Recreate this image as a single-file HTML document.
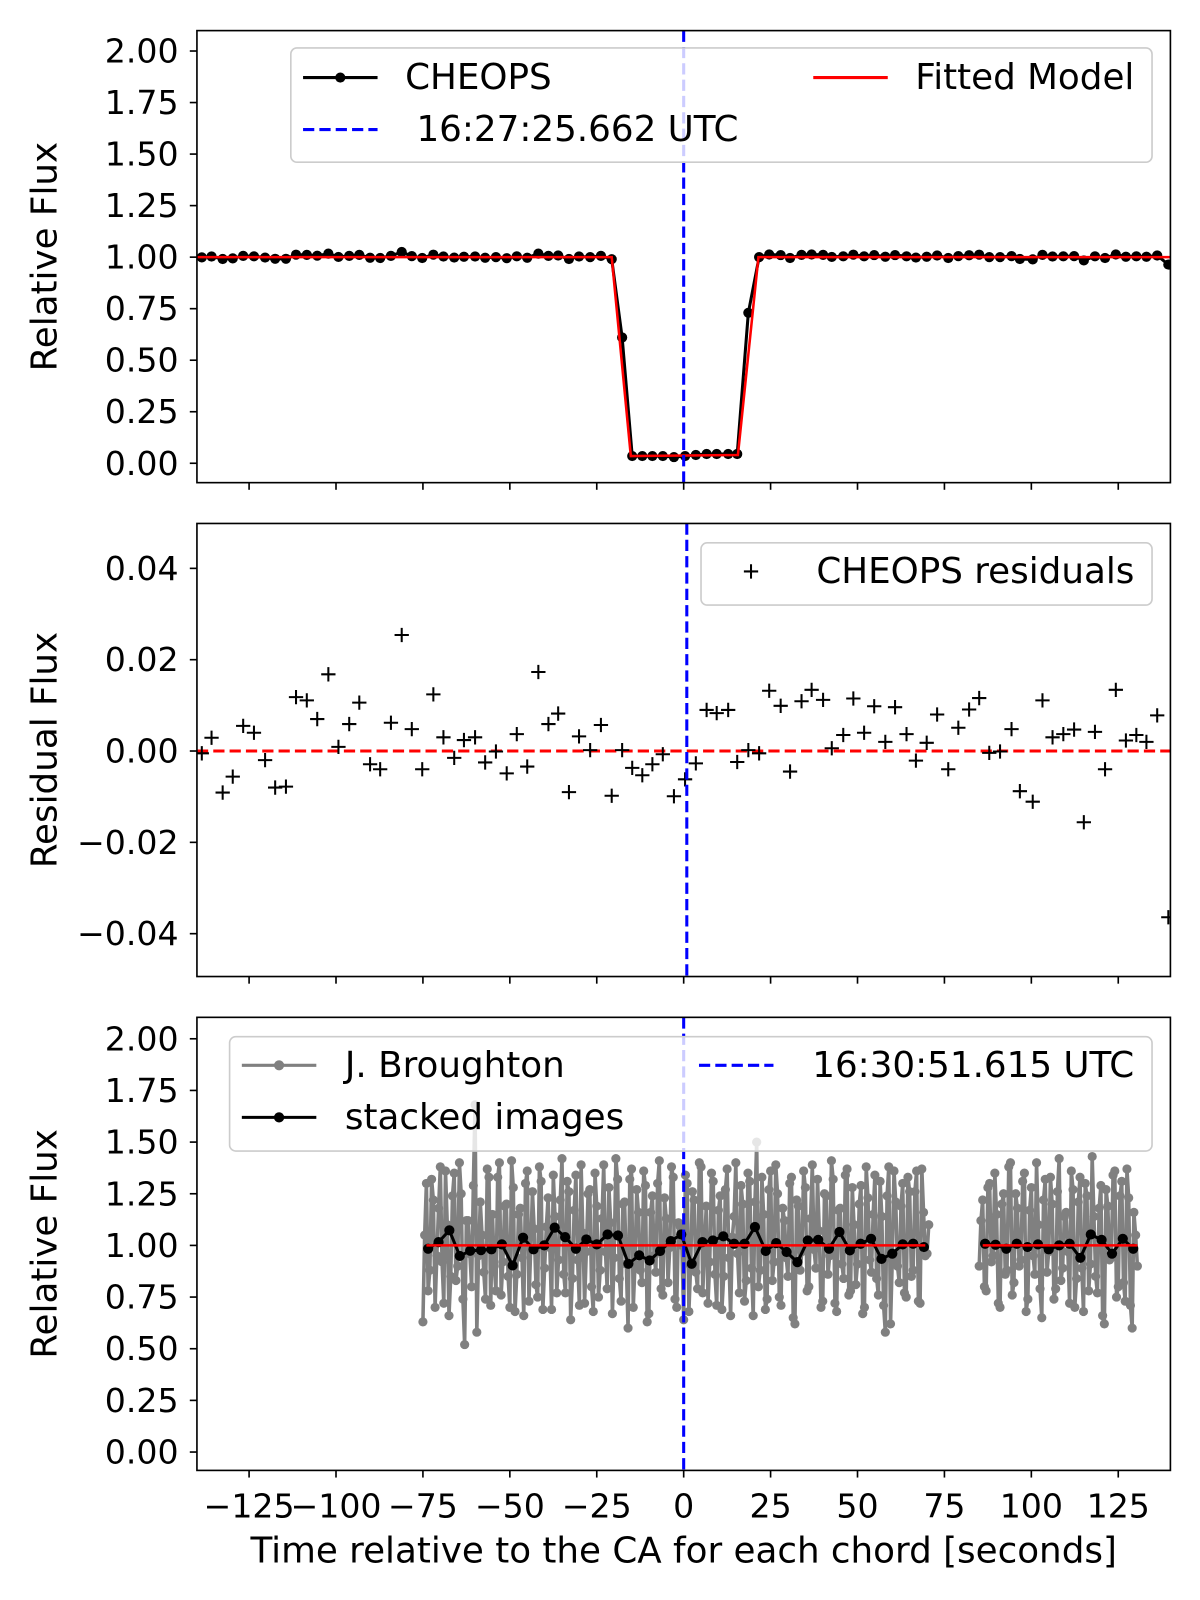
<!DOCTYPE html>
<html><head><meta charset="utf-8"><style>
html,body{margin:0;padding:0;background:#fff;}
svg{display:block;font-family:"DejaVu Sans","Liberation Sans",sans-serif;}
</style></head><body>
<svg id="fig" width="1200" height="1600" viewBox="0 0 1176 1568" xmlns="http://www.w3.org/2000/svg">
<defs>
<clipPath id="c1"><rect x="193" y="30" width="954" height="443"/></clipPath>
<clipPath id="c2"><rect x="193" y="513" width="954" height="444"/></clipPath>
<clipPath id="c3"><rect x="193" y="997" width="954" height="444"/></clipPath>
</defs>
<g id="p1"></g>
<g id="p2"></g>
<g id="p3"></g>
</svg>
<script>
// ---- data ----
const cheopsTime=[-138.6,-135.8,-132.6,-129.7,-126.7,-123.6,-120.4,-117.5,-114.4,-111.5,-108.4,-105.4,-102.2,-99.3,-96.2,-93.3,-90.2,-87.3,-84.2,-81.1,-78.2,-75.2,-72.0,-69.1,-66.0,-63.2,-60.0,-57.1,-54.0,-50.9,-48.0,-45.0,-41.8,-38.9,-36.1,-33.0,-30.1,-26.9,-23.8,-20.7,-17.7,-14.8,-11.9,-9.0,-6.0,-2.8,0.4,3.5,6.6,9.5,12.8,15.4,18.6,21.7,24.6,27.9,30.6,33.9,36.8,40.1,42.6,45.9,48.8,51.9,54.8,58.0,60.8,64.1,66.8,69.9,72.9,76.1,79.0,82.1,85.0,87.9,91.0,94.3,96.7,100.4,103.2,106.1,109.2,112.3,115.1,118.3,121.2,124.3,127.2,130.2,133.1,136.2,139.4];
const cheopsResid=[-0.5,2.9,-9.1,-5.6,5.5,4.0,-2.0,-8.0,-7.8,11.8,11.1,7.0,16.8,0.9,5.9,10.6,-2.9,-4.0,6.2,25.4,4.8,-4.0,12.4,3.0,-1.5,2.4,3.0,-2.5,-0.1,-4.9,3.7,-3.4,17.3,5.9,8.2,-9.0,3.2,0.2,5.7,-9.8,0.2,-3.7,-5.3,-2.9,-0.7,-9.9,-6.2,-2.7,9.0,8.3,9.0,-2.4,0.2,-0.5,13.2,9.9,-4.5,10.9,13.4,11.2,0.6,3.5,11.5,4.0,9.8,2.0,9.6,3.7,-2.1,1.8,8.0,-4.0,5.1,9.1,11.6,-0.4,-0.1,4.8,-8.8,-11.1,11.1,3.0,3.7,4.7,-15.6,4.2,-4.0,13.4,2.3,3.5,2.0,7.8,-36.4]; // x1e-3
const cheopsFlux=[0.999,1.003,0.991,0.994,1.006,1.004,0.998,0.992,0.992,1.012,1.011,1.007,1.017,1.001,1.006,1.011,0.997,0.996,1.006,1.025,1.005,0.996,1.012,1.003,0.998,1.002,1.003,0.997,1.000,0.995,1.004,0.997,1.017,1.006,1.008,0.991,1.003,1.000,1.006,0.990,0.610,0.035,0.035,0.035,0.035,0.030,0.035,0.040,0.045,0.045,0.045,0.045,0.730,1.000,1.013,1.010,0.996,1.011,1.013,1.011,1.001,1.004,1.012,1.004,1.010,1.002,1.010,1.004,0.998,1.002,1.008,0.996,1.005,1.009,1.012,1.000,1.000,1.005,0.991,0.989,1.011,1.003,1.004,1.005,0.984,1.004,0.996,1.013,1.002,1.004,1.002,1.008,0.964];
const modelTime=[-140,-20.7,-15.2,15.6,21.5,140];
const modelFlux=[1,1,0.035,0.04,1,1];
const grayStart=[-75,85];
const grayStartB=[-74.5,85.5];
const grayStep=1;
const graySeg1=[0.63,1.30,0.88,1.22,0.95,1.38,0.72,1.10,0.85,1.35,0.90,1.25,0.52,1.12,0.80,1.68,0.95,1.05,0.74,1.33,1.15,0.78,1.40,0.92,1.20,0.70,1.28,0.86,1.18,0.66,1.36,0.98,1.08,0.75,1.31,0.89,1.23,0.69,1.14,0.93,1.42,0.77,1.26,0.84,1.34,0.71,1.06,0.97,1.27,0.68,1.19,0.88,1.39,0.79,1.11,0.94,1.32,0.73,1.21,0.60,1.37,0.91,1.16,0.82,1.29,0.67,1.24,0.87,1.41,0.76,1.13,0.99,1.33,0.70,1.09,0.64,1.30,0.90,1.22,0.79,1.38,1.00,0.72,1.35,0.86,1.17,0.69,1.27,0.94,1.04,1.40,0.77,1.20,0.83,1.31,0.66,1.50,0.88,1.15,0.74,1.36,0.92,1.25,0.71,1.12,0.85,1.33,0.62,1.19,0.97,1.28,0.80,1.39,0.89,1.07,0.73,1.24,0.95,1.32,0.68,1.18,0.84,1.37,0.78,1.10,0.91,1.29,0.70,1.23,0.87,1.34,0.76,1.14,0.58,1.38,0.93,1.21,0.82,1.30,0.75,1.26,0.88,1.36,0.72,1.16,0.96];
const graySeg1b=[1.05,0.78,1.32,0.70,1.18,0.92,1.36,0.66,1.24,0.83,1.40,0.74,1.12,0.96,1.29,0.58,1.21,0.87,1.37,0.71,0.90,1.33,0.76,1.19,0.85,1.41,0.68,1.15,0.94,1.30,0.73,1.26,0.81,1.38,0.69,1.09,0.99,1.34,0.77,1.22,0.86,1.31,0.64,1.17,0.93,1.39,0.72,1.25,0.80,1.35,0.75,1.13,0.97,1.28,0.67,1.42,0.84,1.20,0.91,1.32,0.70,1.27,0.88,1.36,0.63,1.16,0.95,1.30,0.79,1.23,0.82,1.38,0.74,1.11,1.00,1.34,0.68,1.26,0.87,1.40,0.77,1.19,0.92,1.31,0.71,1.24,0.85,1.37,0.66,1.14,0.96,1.29,0.73,1.35,0.89,1.21,0.80,1.33,0.69,1.27,0.83,1.39,0.75,1.18,0.94,1.30,0.65,1.22,0.88,1.36,0.78,1.13,0.98,1.32,0.70,1.25,0.86,1.41,0.72,1.17,0.91,1.34,0.76,1.28,0.81,1.20,0.67,1.38,0.93,1.15,0.84,1.31,0.71,1.24,0.62,1.36,0.90,1.19,0.77,1.33,0.85,1.26,0.73,1.37,0.95,1.10];
const graySeg2=[0.90,1.22,0.78,1.30,0.95,1.15,0.70,1.25,0.88,1.40,0.82,1.18,0.93,1.35,0.74,1.28,0.86,1.10,0.65,1.32,0.97,1.20,0.79,1.42,0.89,1.16,0.72,1.27,0.84,1.33,0.68,1.24,0.91,1.14,0.77,1.29,0.62,1.19,0.94,1.36,0.80,1.31,0.73,1.23,0.60,1.05];
const graySeg2b=[1.12,0.80,1.28,0.92,1.35,0.72,1.20,0.86,1.38,0.76,1.25,0.90,1.31,0.68,1.17,0.95,1.40,0.79,1.22,0.87,1.33,0.74,1.26,0.83,1.14,0.97,1.36,0.70,1.21,0.89,1.30,0.78,1.43,0.85,1.18,0.66,1.27,0.93,1.34,0.75,1.24,0.82,1.37,0.71,1.16,0.90];
const stackTime1=[-73.5,-70.5,-67.4,-64.4,-61.4,-58.3,-55.3,-52.3,-49.2,-46.2,-43.2,-40.1,-37.1,-34.1,-31.0,-28.0,-25.0,-21.9,-18.9,-15.9,-12.8,-9.8,-6.8,-3.7,-0.7,2.3,5.4,8.4,11.4,14.5,17.5,20.5,23.6,26.6,29.6,32.7,35.7,38.7,41.8,44.8,47.8,50.9,53.9,56.9,60.0,63.0,66.0,69.1];
const stackFlux1=[0.984,1.016,1.073,0.949,0.974,0.977,0.981,1.005,0.903,1.037,0.981,1.000,1.086,1.040,0.984,1.029,1.005,1.053,1.048,0.911,0.952,0.927,0.973,1.021,1.053,0.911,1.016,1.024,1.044,1.008,1.008,1.089,0.973,1.011,0.968,0.919,1.024,1.027,0.984,1.065,0.976,1.008,1.032,0.935,0.960,1.005,1.008,0.992];
const stackTime2=[86.7,89.7,92.8,95.8,98.9,101.9,105.0,108.0,111.0,114.1,117.1,120.2,123.2,126.3,129.3];
const stackFlux2=[1.008,1.003,0.984,1.008,0.992,1.005,0.981,1.000,1.008,0.940,1.053,1.027,0.960,1.032,0.984];
const fitTime=[[-74,69.5],[86,130.5]];
const fitFlux=[1,1];
const xTicks=[-125,-100,-75,-50,-25,0,25,50,75,100,125];
const fluxTicks=[0,0.25,0.5,0.75,1,1.25,1.5,1.75,2];
const residTicks=[-0.04,-0.02,0,0.02,0.04];
const caTime=[0,0.9,0];

// ---- scales ----
const NS="http://www.w3.org/2000/svg";
const X=t=>193+(t+140)/280*954;
const Y1=v=>454-v*202;
const Y2=r=>736-r*4475;
const Y3=v=>1423-v*202.5;
function mk(tag,attrs,parent){const e=document.createElementNS(NS,tag);for(const k in attrs)e.setAttribute(k,attrs[k]);parent.appendChild(e);return e;}
function txt(s,attrs,parent){const e=mk('text',attrs,parent);e.textContent=s;return e;}
const fmtMinus=s=>s.replace('-','\u2212');
const FS=35, TFS=32.5;

function frame(g,top,bot,yticks,Y,fmt,label,showX){
  const ax=mk('rect',{x:193,y:top,width:954,height:bot-top,fill:'none',stroke:'#000','stroke-width':1.6},g);
  
  
  yticks.forEach(v=>{
    const y=Y(v);
    const tk=mk('line',{x1:186,x2:193,y1:y,y2:y,stroke:'#000','stroke-width':1.6},g);
    
    
    const l=txt(fmtMinus(fmt(v)),{x:175,y:y,'text-anchor':'end','dominant-baseline':'central','font-size':TFS},g);
    
    
  });
  const yl=txt(label,{x:44,y:(top+bot)/2,'text-anchor':'middle','dominant-baseline':'central','font-size':FS,transform:`rotate(-90 44 ${(top+bot)/2})`},g);
  
  
  xTicks.forEach(t=>{
    const x=X(t);
    const tk=mk('line',{x1:x,x2:x,y1:bot,y2:bot+7,stroke:'#000','stroke-width':1.6},g);
    
    
    if(showX){
      const l=txt(fmtMinus(String(t)),{x:x,y:1476,'text-anchor':'middle','dominant-baseline':'central','font-size':TFS},g);
      
      
    }
  });
}
function legendBox(g,x,y,w,h){
  const r=mk('rect',{x:x,y:y,width:w,height:h,rx:6,fill:'rgba(255,255,255,0.8)',stroke:'#cccccc','stroke-width':1.6},g);
  
  
}
function legLine(g,x,y,color,dash,marker,name){
  const gg=mk('g',{},g);
  
  
  mk('line',{x1:x,x2:x+73,y1:y,y2:y,stroke:color,'stroke-width':3,'stroke-dasharray':dash||''},gg);
  if(marker)mk('circle',{cx:x+36.5,cy:y,r:5,fill:color},gg);
}
function legText(g,s,x,y){
  const t=txt(s,{x:x,y:y,'dominant-baseline':'central','font-size':FS},g);
  
  
}
function vline(g,t,top,bot){
  const l=mk('line',{x1:X(t),x2:X(t),y1:top,y2:bot,stroke:'#0000ff','stroke-width':3,'stroke-dasharray':'11 5'},g);
  
  
}
const flt=v=>v.toFixed(2);

// ---- panel 1 ----
const p1=document.getElementById('p1');
const d1=mk('g',{'clip-path':'url(#c1)'},p1);


let pts=cheopsTime.map((t,i)=>X(t)+','+Y1(cheopsFlux[i])).join(' ');
const cl=mk('polyline',{points:pts,fill:'none',stroke:'#000','stroke-width':3},d1);


cheopsTime.forEach((t,i)=>{
  const c=mk('circle',{cx:X(t),cy:Y1(cheopsFlux[i]),r:5,fill:'#000'},d1);
  
  
});
const ml=mk('polyline',{points:modelTime.map((t,i)=>X(t)+','+Y1(modelFlux[i])).join(' '),fill:'none',stroke:'#ff0000','stroke-width':2.5},d1);


vline(d1,caTime[0],30,473);
legendBox(p1,285,47,844,112);
legLine(p1,297,76,'#000','',true,'legend-cheops');
legText(p1,'CHEOPS',397,76);
legLine(p1,797,76,'#ff0000','',false,'legend-fitted-model');
legText(p1,'Fitted Model',897,76);
legLine(p1,297,127,'#0000ff','11 5',false,'legend-utc-time');
legText(p1,'\u00a016:27:25.662 UTC',397,127);
frame(p1,30,473,fluxTicks,Y1,flt,'Relative Flux',false);

// ---- panel 2 ----
const p2=document.getElementById('p2');
const d2=mk('g',{'clip-path':'url(#c2)'},p2);


const zl=mk('line',{x1:193,x2:1147,y1:Y2(0),y2:Y2(0),stroke:'#ff0000','stroke-width':3,'stroke-dasharray':'11 5'},d2);


cheopsTime.forEach((t,i)=>{
  const x=X(t),y=Y2(cheopsResid[i]/1000);
  const p=mk('path',{d:`M${x-7} ${y}H${x+7}M${x} ${y-7}V${y+7}`,stroke:'#000','stroke-width':2,fill:'none'},d2);
  
  
});
vline(d2,caTime[1],513,957);
legendBox(p2,687,532,442,61);
const lp=mk('path',{d:'M729 560H743M736 553V567',stroke:'#000','stroke-width':2},p2);


legText(p2,'CHEOPS residuals',800,560);
frame(p2,513,957,residTicks,Y2,v=>v.toFixed(2),'Residual Flux',false);

// ---- panel 3 ----
const p3=document.getElementById('p3');
const d3=mk('g',{'clip-path':'url(#c3)'},p3);


[[graySeg1,graySeg1b],[graySeg2,graySeg2b]].forEach((pair,s)=>{
  const merged=[];
  pair[0].forEach((v,i)=>merged.push([grayStart[s]+i*grayStep,v]));
  pair[1].forEach((v,i)=>merged.push([grayStartB[s]+i*grayStep,v]));
  merged.sort((a,b)=>a[0]-b[0]);
  const pl=mk('polyline',{points:merged.map(p=>X(p[0])+','+Y3(p[1])).join(' '),fill:'none',stroke:'#808080','stroke-width':3.5},d3);
  
  
  merged.forEach(p=>{
    const c=mk('circle',{cx:X(p[0]),cy:Y3(p[1]),r:4.5,fill:'#808080'},d3);
    
    
  });
});
[[stackTime1,stackFlux1],[stackTime2,stackFlux2]].forEach(([ts,fs])=>{
  const pl=mk('polyline',{points:ts.map((t,i)=>X(t)+','+Y3(fs[i])).join(' '),fill:'none',stroke:'#000','stroke-width':3},d3);
  
  
  ts.forEach((t,i)=>{
    const c=mk('circle',{cx:X(t),cy:Y3(fs[i]),r:5,fill:'#000'},d3);
    
    
  });
});
fitTime.forEach((tt,i)=>{
  const l=mk('line',{x1:X(tt[0]),x2:X(tt[1]),y1:Y3(fitFlux[i]),y2:Y3(fitFlux[i]),stroke:'#ff0000','stroke-width':2.5},d3);
  
  
});
vline(d3,caTime[2],997,1441);
legendBox(p3,225,1016,904,112);
legLine(p3,237,1044,'#808080','',true,'legend-broughton');
legText(p3,'J. Broughton',338,1044);
legLine(p3,237,1095,'#000','',true,'legend-stacked');
legText(p3,'stacked images',338,1095);
legLine(p3,685,1044,'#0000ff','11 5',false,'legend-utc-time-2');
legText(p3,'16:30:51.615 UTC',796,1044);
frame(p3,997,1441,fluxTicks,Y3,flt,'Relative Flux',true);
const xl=txt('Time relative to the CA for each chord [seconds]',{x:670,y:1520,'text-anchor':'middle','dominant-baseline':'central','font-size':FS},p3);


</script>
</body></html>
